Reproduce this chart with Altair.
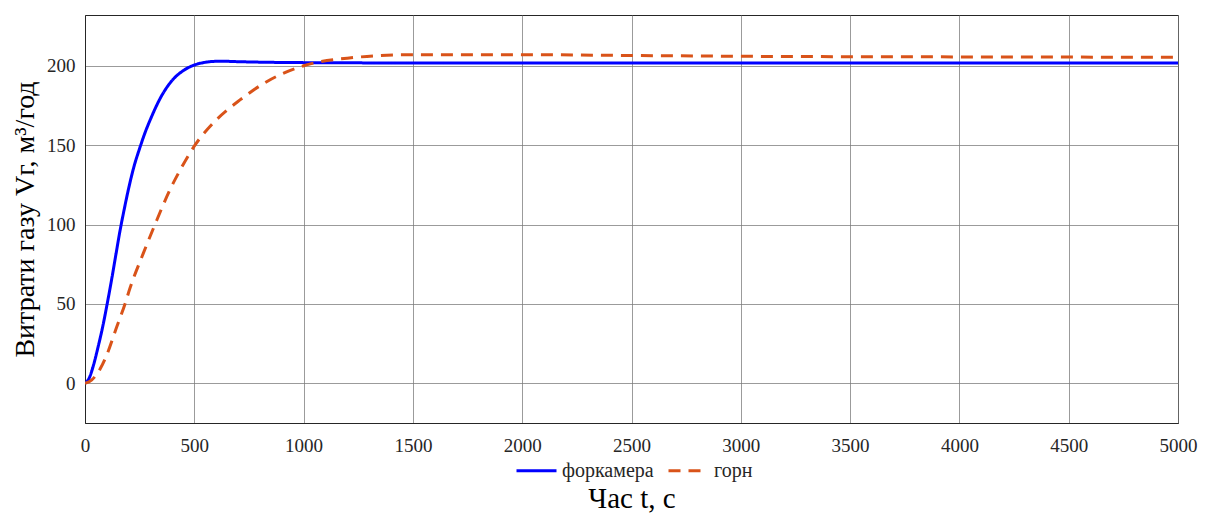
import altair as alt
import pandas as pd

# Series: форкамера (blue, solid)
t_fork = [0, 20, 40, 60, 80, 100, 120, 140, 160, 180, 200, 225, 250, 275, 300,
          350, 400, 450, 500, 550, 600, 650, 700, 800, 1000, 1500, 2000, 3000, 4000, 5000]
v_fork = [0, 3.5, 12, 23, 35, 49, 64, 80, 96, 110, 123, 137, 148, 158, 166.5,
          181, 191, 197, 200.5, 202.2, 202.8, 202.8, 202.6, 202.3, 202.0, 201.8, 201.8,
          201.7, 201.7, 201.7]

# Series: горн (orange, dashed)
t_horn = [0, 30, 69, 100, 145, 183, 206, 267, 320, 389, 450, 503, 587, 709, 831,
          1000, 1200, 1500, 2000, 2500, 3000, 4000, 5000]
v_horn = [0, 2, 9, 18, 35.5, 50, 60, 82, 100, 122, 138, 150, 164, 178.5, 190,
          200, 204.8, 207.0, 207.0, 206.5, 206.0, 205.6, 205.4]

series_names = ["форкамера", "горн"]
series_colors = ["#0000FF", "#D95319"]
x_ticks = list(range(0, 5001, 500))
y_ticks = [0, 50, 100, 150, 200]

df = pd.concat([
    pd.DataFrame({"t": t_fork, "v": v_fork, "series": series_names[0], "o": 0}),
    pd.DataFrame({"t": t_horn, "v": v_horn, "series": series_names[1], "o": 1}),
])

FONT = "Liberation Serif"
TXT = "#262626"

chart = alt.Chart(df).mark_line(strokeWidth=3, interpolate="monotone", clip=True).encode(
    x=alt.X("t:Q",
            scale=alt.Scale(domain=[0, 5000], nice=False, zero=False),
            axis=alt.Axis(values=x_ticks, title="Час t, с", format="d",
                          labelPadding=13, titleY=84, titleBaseline="alphabetic",
                          titleFontSize=29, titleFontWeight="normal")),
    y=alt.Y("v:Q",
            scale=alt.Scale(domain=[-25, 232], nice=False, zero=False),
            axis=alt.Axis(values=y_ticks, title="Витрати газу Vг, м³/год",
                          labelPadding=10, titleX=-60, titleY=204, titleAngle=270,
                          titleAlign="center", titleBaseline="middle",
                          titleFontSize=28, titleFontWeight="normal")),
    color=alt.Color("series:N",
                    scale=alt.Scale(domain=series_names, range=series_colors),
                    legend=alt.Legend(title=None)),
    strokeDash=alt.StrokeDash("series:N",
                              scale=alt.Scale(domain=series_names, range=[[1, 0], [12, 8]]),
                              legend=alt.Legend(title=None)),
    order=alt.Order("o:Q"),
).properties(
    width=1093, height=408,
    autosize=alt.AutoSizeParams(type="none"),
    padding={"left": 77, "top": 7, "right": 22, "bottom": 92},
).configure_view(
    stroke=TXT, strokeWidth=1
).configure_axis(
    labelFont=FONT, titleFont=FONT, labelFontSize=19, labelColor=TXT, titleColor="#000000",
    domainColor=TXT, domainWidth=1, ticks=False, grid=True,
    gridColor="#7a7a7a", gridWidth=1, gridOpacity=0.75,
    labelFlush=False,
).configure_legend(
    orient="none", legendX=430, legendY=434, direction="horizontal",
    symbolType="stroke", symbolSize=1600, symbolStrokeWidth=3,
    labelFont=FONT, labelFontSize=20, labelColor=TXT, labelOffset=4,
    columnPadding=8, padding=0,
)

chart.save("out.html", embed_options={"renderer": "svg", "actions": False})
